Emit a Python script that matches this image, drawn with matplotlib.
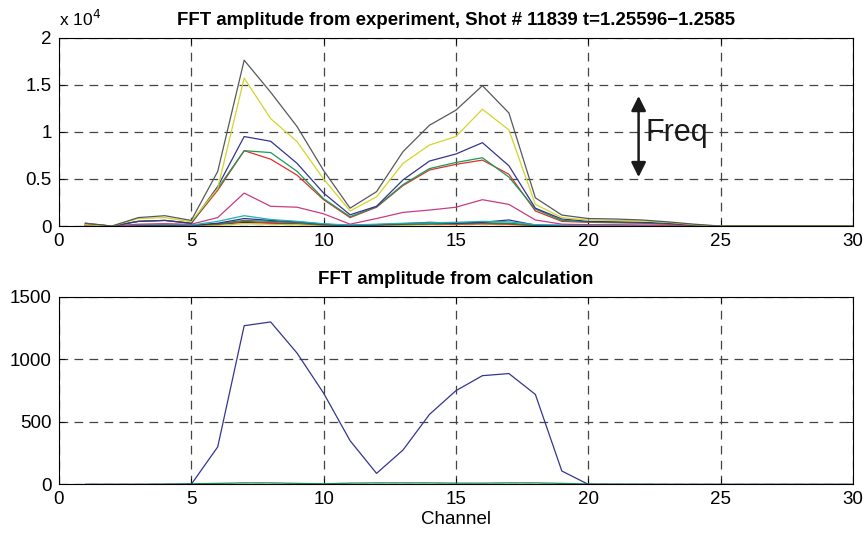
import numpy as np
import matplotlib
matplotlib.use("Agg")
import matplotlib.pyplot as plt

plt.rcParams['font.family'] = ['Liberation Sans', 'DejaVu Sans']

# ---------------------------
# data
# ---------------------------
channels = np.arange(1, 31)

# experiment, one line per frequency
exp_gray = [300, 0, 900, 1100, 600, 5800, 17600, 14200, 10550, 5900, 1900, 3650, 7900, 10700, 12300,
            14900, 12000, 3000, 1170, 800, 750, 650, 450, 200, 0, 0, 0, 0, 0, 0]
exp_yellow = [150, 0, 800, 900, 450, 4000, 15700, 11400, 8950, 5000, 1600, 3100, 6650, 8600, 9500,
              12400, 10200, 2300, 900, 640, 600, 550, 400, 150, 0, 0, 0, 0, 0, 0]
exp_navy = [200, 0, 500, 600, 300, 4200, 9500, 9000, 6650, 3500, 1200, 2100, 4900, 6900, 7650,
            8850, 6400, 1900, 750, 500, 450, 400, 300, 100, 0, 0, 0, 0, 0, 0]
exp_green = [200, 0, 500, 600, 300, 4000, 8000, 7800, 5800, 2900, 1000, 2050, 4400, 6100, 6750,
             7250, 5200, 1800, 600, 450, 400, 350, 250, 100, 0, 0, 0, 0, 0, 0]
exp_red = [300, 0, 500, 600, 300, 3800, 8000, 7100, 5400, 2800, 900, 2000, 4300, 5950, 6550,
           7000, 5500, 1600, 500, 400, 350, 300, 200, 80, 0, 0, 0, 0, 0, 0]
exp_magenta = [50, 0, 200, 250, 200, 900, 3500, 2100, 2000, 1300, 200, 800, 1450, 1700, 2000,
               2800, 2300, 650, 200, 150, 150, 120, 100, 50, 0, 0, 0, 0, 0, 0]
exp_cyan = [100, 0, 150, 200, 100, 500, 1100, 700, 500, 250, 100, 200, 300, 350, 400,
            500, 450, 150, 100, 80, 60, 50, 40, 20, 0, 0, 0, 0, 0, 0]
exp_navy2 = [80, 0, 100, 150, 80, 300, 800, 600, 450, 200, 80, 150, 250, 400, 300,
             400, 650, 100, 60, 50, 40, 30, 20, 10, 0, 0, 0, 0, 0, 0]
exp_green2 = [60, 0, 80, 100, 60, 250, 600, 500, 350, 150, 60, 120, 200, 250, 300,
              350, 300, 80, 50, 40, 30, 20, 10, 5, 0, 0, 0, 0, 0, 0]
exp_dark = [30, 0, 50, 60, 40, 150, 400, 300, 250, 100, 40, 80, 150, 200, 250,
            300, 250, 60, 40, 30, 20, 15, 10, 5, 0, 0, 0, 0, 0, 0]
exp_red2 = [40, 0, 60, 80, 50, 200, 500, 350, 300, 120, 50, 100, 180, 220, 200,
            250, 200, 50, 30, 20, 20, 15, 10, 5, 0, 0, 0, 0, 0, 0]
exp_yellow2 = [20, 0, 30, 40, 20, 100, 250, 200, 150, 80, 30, 60, 100, 150, 150,
               200, 150, 40, 20, 15, 10, 10, 5, 0, 0, 0, 0, 0, 0, 0]

exp_series = [exp_dark, exp_yellow2, exp_red2, exp_green2, exp_navy2, exp_cyan,
              exp_magenta, exp_red, exp_green, exp_navy, exp_yellow, exp_gray]
exp_colors = ['#303030', '#c8c830', '#d83030', '#1a9050', '#303090', '#20b0b0',
              '#c83c80', '#e0302a', '#1a9a5a', '#35358f', '#d4d42a', '#555a5a']

# calculation
calc_main = [0, 0, 0, 0, 0, 300, 1270, 1300, 1050, 730, 350, 88, 275, 560, 750,
             870, 887, 720, 107, 0, 0, 0, 0, 0, 0, 0, 0, 0, 0, 0]
calc_small = [0, 0, 0, 2, 5, 8, 12, 12, 8, 5, 10, 12, 12, 12, 10,
              10, 12, 12, 8, 3, 2, 1, 0, 0, 0, 0, 0, 0, 0, 0]

exp_yticks = [0, 5000, 10000, 15000, 20000]
exp_yticklabels = ['0', '0.5', '1', '1.5', '2']
calc_yticks = [0, 500, 1000, 1500]
xticks = [0, 5, 10, 15, 20, 25, 30]

# ---------------------------
# plot
# ---------------------------
fig = plt.figure(figsize=(8.66, 5.37), dpi=100)
ax1 = fig.add_axes([0.068, 0.579, 0.917, 0.351])
ax2 = fig.add_axes([0.068, 0.098, 0.917, 0.349])

grid_kw = dict(color='#444444', linestyle=(0, (7, 5)), linewidth=0.9)

for ax in (ax1, ax2):
    ax.set_xlim(0, 30)
    ax.set_xticks(xticks)
    ax.tick_params(direction='in', labelsize=13.5, length=4, width=0.6, top=True, right=True, pad=5)
    ax.grid(True, **grid_kw)
    for s in ax.spines.values():
        s.set_linewidth(0.8)
    ax.set_axisbelow(True)

for ys, c in zip(exp_series, exp_colors):
    ax1.plot(channels, ys, color=c, linewidth=0.9)
ax1.set_ylim(0, 20000)
ax1.set_yticks(exp_yticks)
ax1.set_yticklabels(exp_yticklabels)
ax1.text(0.0, 1.045, r'x 10$^4$', transform=ax1.transAxes, fontsize=12.5, ha='left', va='bottom')
ax1.set_title('FFT amplitude from experiment, Shot # 11839 t=1.25596\u22121.2585',
              fontsize=13.4, fontweight='bold', pad=9)

# frequency arrow
ax1.annotate('', xy=(21.9, 4900), xytext=(21.9, 14100),
             arrowprops=dict(arrowstyle='<|-|>', color='#1a1a1a', lw=1.8, mutation_scale=22))
ax1.text(22.15, 9900, 'Freq', fontsize=22, va='center', ha='left', color='#1a1a1a')

ax2.plot(channels, calc_small, color='#1a9050', linewidth=0.9)
ax2.plot(channels, calc_main, color='#35358f', linewidth=0.9)
ax2.set_ylim(0, 1500)
ax2.set_yticks(calc_yticks)
ax2.set_title('FFT amplitude from calculation', fontsize=13.4, fontweight='bold', pad=9)
ax2.set_xlabel('Channel', fontsize=13.5, labelpad=2)

fig.savefig('out.png', dpi=100)
